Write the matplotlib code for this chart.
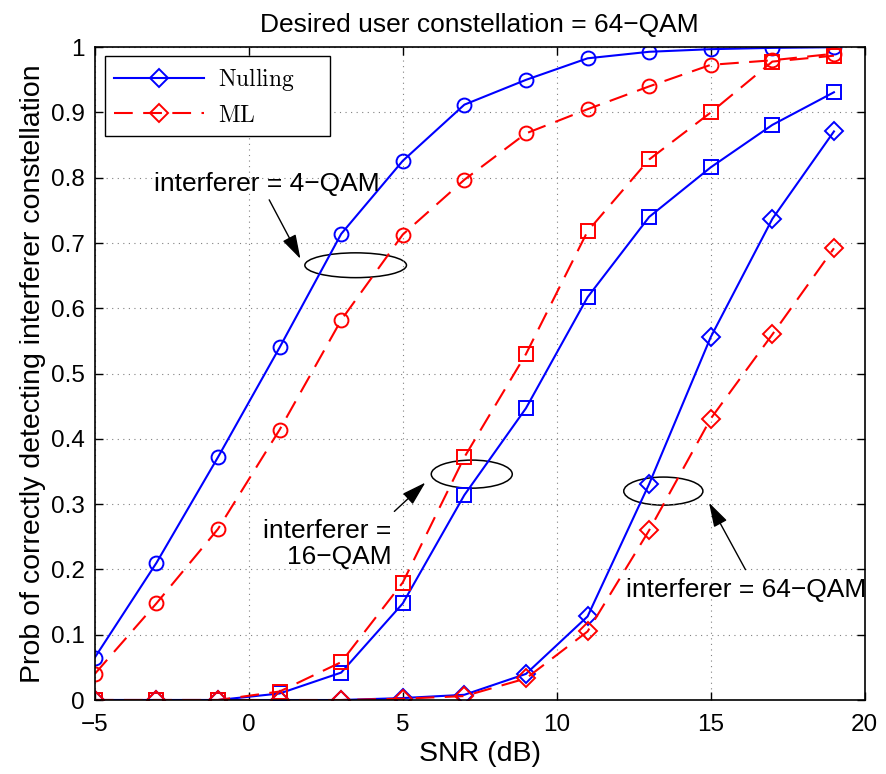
import matplotlib
matplotlib.use("Agg")
import matplotlib.pyplot as plt
from matplotlib.lines import Line2D
from matplotlib.patches import Ellipse

plt.rcParams['font.family'] = ['Liberation Sans', 'DejaVu Sans']
plt.rcParams['mathtext.fontset'] = 'cm'

snr = [-5, -3, -1, 1, 3, 5, 7, 9, 11, 13, 15, 17, 19]

null_4qam = [0.065, 0.21, 0.372, 0.54, 0.714, 0.826, 0.912, 0.95, 0.983, 0.993, 0.997, 0.999, 1.0]
ml_4qam = [0.04, 0.148, 0.262, 0.414, 0.582, 0.713, 0.797, 0.868, 0.905, 0.94, 0.973, 0.98, 0.99]
null_16qam = [0.0, 0.0, 0.0, 0.01, 0.042, 0.148, 0.314, 0.447, 0.617, 0.74, 0.816, 0.881, 0.931]
ml_16qam = [0.0, 0.0, 0.0, 0.013, 0.058, 0.18, 0.372, 0.53, 0.718, 0.828, 0.9, 0.978, 0.987]
null_64qam = [0.0, 0.0, 0.0, 0.0, 0.0, 0.003, 0.008, 0.04, 0.128, 0.331, 0.556, 0.737, 0.871]
ml_64qam = [0.0, 0.0, 0.0, 0.0, 0.0, 0.002, 0.006, 0.033, 0.105, 0.26, 0.431, 0.56, 0.692]

fig = plt.figure(figsize=(8.86, 7.74), dpi=100)
ax = fig.add_axes([0.107, 0.0956, 0.869, 0.8434])

dash = (9, 5)
kw = dict(lw=1.5, ms=10, mew=1.4, mfc='none')

ax.plot(snr, null_4qam, color='b', marker='o', **kw)
ax.plot(snr, ml_4qam, color='r', marker='o', dashes=dash, **kw)
ax.plot(snr, null_16qam, color='b', marker='s', **kw)
ax.plot(snr, ml_16qam, color='r', marker='s', dashes=dash, **kw)
ax.plot(snr, null_64qam, color='b', marker='D', **{**kw, 'ms': 9})
ax.plot(snr, ml_64qam, color='r', marker='D', dashes=dash, **{**kw, 'ms': 9})

ax.set_xlim(-5, 20)
ax.set_ylim(0, 1)
ax.set_xticks([-5, 0, 5, 10, 15, 20])
ax.set_xticklabels(['\u22125', '0', '5', '10', '15', '20'])
ax.set_yticks([i / 10 for i in range(11)])
ax.set_yticklabels(['0', '0.1', '0.2', '0.3', '0.4', '0.5', '0.6', '0.7', '0.8', '0.9', '1'])
ax.tick_params(direction='in', top=True, right=True, labelsize=17.5, length=6, width=1)
ax.tick_params(axis='x', pad=10)
ax.tick_params(axis='y', pad=7)
ax.grid(True, linestyle=(0, (1, 4)), color='gray', lw=0.8)
for s in ax.spines.values():
    s.set_linewidth(1.2)

ax.set_xlabel('SNR (dB)', fontsize=20.5, labelpad=4)
ax.set_ylabel('Prob of correctly detecting interferer constellation', fontsize=20.5, labelpad=4)
ax.set_title('Desired user constellation = 64\u2212QAM', fontsize=19, pad=11)

# ellipses marking groups
for cx, cy, w, h in [(3.47, 0.666, 3.3, 0.038), (7.24, 0.346, 2.63, 0.043), (13.46, 0.32, 2.57, 0.043)]:
    ax.add_patch(Ellipse((cx, cy), w, h, fill=False, ec='k', lw=1.1))

arrow = dict(arrowstyle='-|>,head_width=0.45,head_length=1.5', color='k', lw=1.0)
ax.annotate('', xy=(1.72, 0.672), xytext=(0.62, 0.77), arrowprops=arrow)
ax.text(0.58, 0.79, 'interferer = 4\u2212QAM', fontsize=19, ha='center', va='center')
ax.annotate('', xy=(5.8, 0.336), xytext=(4.66, 0.286), arrowprops=arrow)
ax.text(4.64, 0.239, 'interferer =\n16\u2212QAM', fontsize=19, ha='right', va='center',
        multialignment='right', linespacing=1.1)
ax.annotate('', xy=(14.9, 0.306), xytext=(16.17, 0.196), arrowprops=arrow)
ax.text(16.14, 0.168, 'interferer = 64\u2212QAM', fontsize=19, ha='center', va='center')

handles = [Line2D([], [], color='b', marker='D', ms=9, mew=1.4, mfc='none', lw=1.5),
           Line2D([], [], color='r', marker='D', ms=9, mew=1.4, mfc='none', lw=1.5, dashes=dash)]
leg = ax.legend(handles, [r'$\mathrm{Nulling}$', r'$\mathrm{ML}$'], loc='upper left',
                bbox_to_anchor=(0.013, 0.0, 0.293, 0.986), mode='expand',
                fontsize=17, fancybox=False, edgecolor='k', framealpha=1,
                borderaxespad=0.0, handlelength=3.8, borderpad=0.4, labelspacing=0.5,
                handletextpad=0.6)
leg.get_frame().set_linewidth(1.0)

fig.savefig('out.png', dpi=100)
